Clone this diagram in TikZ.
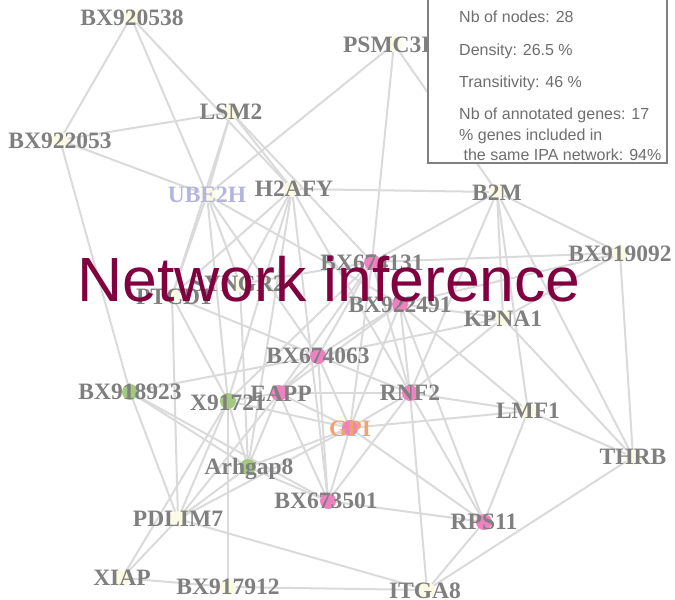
\documentclass[tikz,border=0pt]{standalone}
\usepackage{fontspec}
\setmainfont{Liberation Serif}
\setsansfont{Liberation Sans}
\usepackage{xcolor}

\definecolor{edgegrey}{HTML}{DADADA}
\definecolor{labelgrey}{HTML}{7F7F7F}
\definecolor{dotivory}{HTML}{FBFBE4}
\definecolor{dotpink}{HTML}{EE82C0}
\definecolor{dotgreen}{HTML}{A3C97E}
\definecolor{ubelavender}{HTML}{B4B4DC}
\definecolor{gpiorange}{HTML}{F0A36E}
\definecolor{titlewine}{HTML}{800040}
\definecolor{boxgrey}{HTML}{808080}
\definecolor{boxtext}{HTML}{6E6E6E}

\begin{document}
\begin{tikzpicture}[x=1pt,y=-1pt,
  edge/.style={edgegrey, line width=2pt},
  gene/.style={font=\fontsize{23.5}{24}\selectfont\bfseries, text=labelgrey,
    anchor=base, yshift=-8pt, inner sep=0pt},
  stat/.style={font=\sffamily\fontsize{16}{16}\selectfont, text=boxtext,
    anchor=base west, inner sep=0pt}]
\useasboundingbox (0,0) rectangle (675,600);
%% \draw[help lines, step=50] (0,0) grid (675,600);

%% gene positions
\coordinate (b538) at (131,17);
\coordinate (psmc) at (394,44);
\coordinate (lsm2) at (231,112);
\coordinate (b053) at (60,140);
\coordinate (ube2h) at (207,195);
\coordinate (h2afy) at (292,189);
\coordinate (b2m) at (497,192);
\coordinate (b092) at (620,253);
\coordinate (b131) at (372,262);
\coordinate (syngr) at (240,284);
\coordinate (ptcd) at (172,296);
\coordinate (b491) at (400,304);
\coordinate (kpna) at (503,318);
\coordinate (b063) at (318,356);
\coordinate (b923) at (130,392);
\coordinate (x917) at (228,401);
\coordinate (eapp) at (279,393);
\coordinate (rnf2) at (410,393);
\coordinate (gpi) at (350,428);
\coordinate (lmf1) at (528,411);
\coordinate (thrb) at (633,457);
\coordinate (arh) at (248,467);
\coordinate (b501) at (328,501);
\coordinate (pdlim) at (178,519);
\coordinate (rps11) at (484,522);
\coordinate (xiap) at (122,578);
\coordinate (b912) at (228,587);
\coordinate (itga8) at (427,590);

%% edges
\foreach \a/\b in {b538/b053, b538/ube2h, b538/h2afy, b053/lsm2, b053/ube2h,
  b053/b923, lsm2/ube2h, lsm2/h2afy, lsm2/ptcd, lsm2/b131, psmc/ube2h,
  psmc/b131, psmc/b2m, h2afy/b2m, b2m/b092, b2m/b131, b2m/rnf2, b2m/lmf1,
  b2m/kpna, b2m/thrb, b092/thrb, b092/b131, b092/kpna, b092/b491, kpna/rnf2,
  kpna/b063, kpna/b491, kpna/thrb, b491/lmf1, lmf1/rnf2, lmf1/gpi, lmf1/thrb,
  lmf1/rps11, thrb/itga8, rps11/itga8, rps11/b501, rps11/rnf2, rps11/gpi,
  rps11/b491, itga8/rnf2, itga8/pdlim, itga8/b912, xiap/b912, xiap/pdlim,
  xiap/x917, b923/pdlim, b923/arh, b923/b063, b923/b501, ptcd/pdlim,
  ptcd/ube2h, ptcd/x917, ptcd/b063, ptcd/h2afy, ube2h/x917, ube2h/b063,
  ube2h/b491, ube2h/syngr, h2afy/x917, h2afy/arh, h2afy/rnf2, h2afy/b501,
  h2afy/syngr, eapp/rnf2, eapp/gpi, eapp/x917, eapp/b491, eapp/b131,
  rnf2/b501, rnf2/gpi, x917/gpi, x917/b131, arh/pdlim, arh/x917, arh/eapp,
  arh/gpi, arh/b501, arh/syngr, pdlim/eapp, pdlim/gpi, pdlim/x917,
  b501/eapp, b501/b063, b501/gpi, b912/x917, b063/rnf2, b063/gpi,
  b063/b131, b063/b491, b063/eapp, b491/rnf2, b491/gpi, b131/gpi,
  b131/rnf2, syngr/b131}
  \draw[edge] (\a) -- (\b);

%% dots
\foreach \n in {b538, psmc, lsm2, b053, ube2h, h2afy, b2m, b092, syngr, ptcd,
  kpna, lmf1, thrb, pdlim, xiap, b912, itga8}
  \fill[dotivory] (\n) circle[radius=8];
\foreach \n in {b131, b491, b063, eapp, rnf2, gpi, b501, rps11}
  \fill[dotpink] (\n) circle[radius=8];
\foreach \n in {b923, x917, arh}
  \fill[dotgreen] (\n) circle[radius=8];

%% labels
\node[gene] (b538-l) at (132,17) {BX920538};
\node[gene] (psmc-l) at (394,44) {PSMC3IP};
\node[gene] (lsm2-l) at (231,111) {LSM2};
\node[gene] (b053-l) at (60,140) {BX922053};
\node[gene, text=ubelavender] (ube2h-l) at (207,194) {UBE2H};
\node[gene] (h2afy-l) at (294,188) {H2AFY};
\node[gene] (b2m-l) at (497,192) {B2M};
\node[gene] (b092-l) at (620,253) {BX919092};
\node[gene] (b131-l) at (372,262) {BX674131};
\node[gene] (syngr-l) at (238,283) {SYNGR2};
\node[gene] (ptcd-l) at (174,296) {PTCD1};
\node[gene] (b491-l) at (400,304) {BX922491};
\node[gene] (kpna-l) at (503,318) {KPNA1};
\node[gene] (b063-l) at (318,355) {BX674063};
\node[gene] (b923-l) at (130,391) {BX918923};
\node[gene] (x917-l) at (228,402) {X91721};
\node[gene] (eapp-l) at (281,393) {EAPP};
\node[gene] (rnf2-l) at (410,392) {RNF2};
\node[gene, text=gpiorange] (gpi-l) at (350,428) {GPI};
\node[gene] (lmf1-l) at (528,410) {LMF1};
\node[gene] (thrb-l) at (633,456) {THRB};
\node[gene] (arh-l) at (249,466) {Arhgap8};
\node[gene] (b501-l) at (326,500) {BX673501};
\node[gene] (pdlim-l) at (178,518) {PDLIM7};
\node[gene] (rps11-l) at (484,521) {RPS11};
\node[gene] (xiap-l) at (122,577) {XIAP};
\node[gene] (b912-l) at (228,586) {BX917912};
\node[gene] (itga8-l) at (425,590) {ITGA8};

%% statistics box
\filldraw[fill=white, draw=boxgrey, line width=2pt] (428,-10) rectangle (667,163);
\node[stat] (s1) at (459,22.5) {Nb of nodes: 28};
\node[stat] (s2) at (459,55) {Density: 26.5 \%};
\node[stat] (s3) at (459,87) {Transitivity: 46 \%};
\node[stat] (s4) at (459,119) {Nb of annotated genes: 17};
\node[stat] (s5) at (459,140) {\% genes included in};
\node[stat] (s6) at (459,160.5) {\ the same IPA network: 94\%};

%% title
\node[font=\sffamily\fontsize{62.5}{63}\selectfont, text=titlewine, anchor=base,
  inner sep=0pt] (title) at (329,301) {Network inference};
\end{tikzpicture}
\end{document}
